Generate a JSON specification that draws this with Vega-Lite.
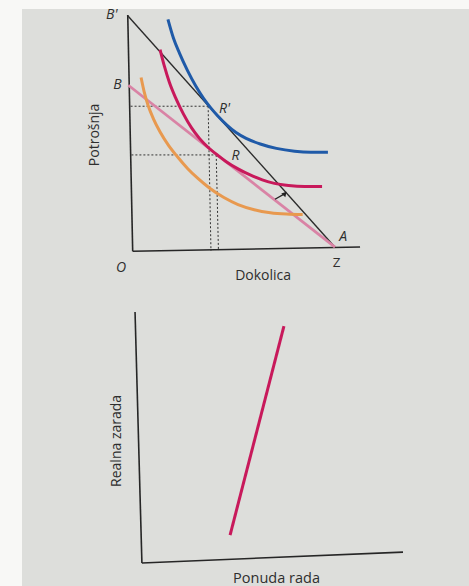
{
  "$schema": "https://vega.github.io/schema/vega-lite/v6.json",
  "background": "#f8f8f6",
  "padding": {"left": 22, "top": 7, "right": 0, "bottom": 0},
  "spacing": 0,
  "config": {"view": {"stroke": null, "fill": "#dddedb"}, "text": {"font": "Open Sans", "color": "#2e2e2e"}},
  "datasets": {
    "axesTop": [
      {"id": "y", "i": 0, "x": -2.6, "y": 100.9},
      {"id": "y", "i": 1, "x": -0.15, "y": -0.56},
      {"id": "x", "i": 0, "x": -0.15, "y": -0.56},
      {"id": "x", "i": 1, "x": 112.4, "y": 1.3}
    ],
    "curves": [
      {"curve": "BprimeA", "i": 0, "x": -2.6, "y": 100.5},
      {"curve": "BprimeA", "i": 1, "x": 100, "y": 1.2},
      {"curve": "BA", "i": 0, "x": -2.3, "y": 70.7},
      {"curve": "BA", "i": 1, "x": 100, "y": 1.2},
      {"curve": "U3", "i": 0, "x": 17.3, "y": 99},
      {"curve": "U3", "i": 1, "x": 20, "y": 91},
      {"curve": "U3", "i": 2, "x": 23, "y": 84.5},
      {"curve": "U3", "i": 3, "x": 27, "y": 77},
      {"curve": "U3", "i": 4, "x": 31, "y": 70.5},
      {"curve": "U3", "i": 5, "x": 35, "y": 65},
      {"curve": "U3", "i": 6, "x": 38.5, "y": 61},
      {"curve": "U3", "i": 7, "x": 42, "y": 57.5},
      {"curve": "U3", "i": 8, "x": 46.5, "y": 53.6},
      {"curve": "U3", "i": 9, "x": 51, "y": 50.4},
      {"curve": "U3", "i": 10, "x": 56, "y": 47.9},
      {"curve": "U3", "i": 11, "x": 63, "y": 45.5},
      {"curve": "U3", "i": 12, "x": 71, "y": 43.6},
      {"curve": "U3", "i": 13, "x": 80, "y": 42.4},
      {"curve": "U3", "i": 14, "x": 88, "y": 42},
      {"curve": "U3", "i": 15, "x": 96.5, "y": 42},
      {"curve": "U2", "i": 0, "x": 13.4, "y": 86},
      {"curve": "U2", "i": 1, "x": 15.5, "y": 79},
      {"curve": "U2", "i": 2, "x": 18, "y": 72},
      {"curve": "U2", "i": 3, "x": 21, "y": 65.5},
      {"curve": "U2", "i": 4, "x": 25, "y": 58.3},
      {"curve": "U2", "i": 5, "x": 29, "y": 52.4},
      {"curve": "U2", "i": 6, "x": 33, "y": 47.8},
      {"curve": "U2", "i": 7, "x": 37, "y": 44.2},
      {"curve": "U2", "i": 8, "x": 42, "y": 40.6},
      {"curve": "U2", "i": 9, "x": 46, "y": 38},
      {"curve": "U2", "i": 10, "x": 52, "y": 34.8},
      {"curve": "U2", "i": 11, "x": 58, "y": 32.2},
      {"curve": "U2", "i": 12, "x": 64, "y": 30.1},
      {"curve": "U2", "i": 13, "x": 70, "y": 28.6},
      {"curve": "U2", "i": 14, "x": 77, "y": 27.7},
      {"curve": "U2", "i": 15, "x": 85, "y": 27.3},
      {"curve": "U2", "i": 16, "x": 93.6, "y": 27.3},
      {"curve": "U1", "i": 0, "x": 4, "y": 74},
      {"curve": "U1", "i": 1, "x": 5.5, "y": 68},
      {"curve": "U1", "i": 2, "x": 7.5, "y": 62},
      {"curve": "U1", "i": 3, "x": 10, "y": 56.5},
      {"curve": "U1", "i": 4, "x": 13.5, "y": 50.5},
      {"curve": "U1", "i": 5, "x": 17.5, "y": 45},
      {"curve": "U1", "i": 6, "x": 22, "y": 40},
      {"curve": "U1", "i": 7, "x": 27, "y": 35},
      {"curve": "U1", "i": 8, "x": 32, "y": 30.8},
      {"curve": "U1", "i": 9, "x": 38, "y": 26.5},
      {"curve": "U1", "i": 10, "x": 45, "y": 22.5},
      {"curve": "U1", "i": 11, "x": 52, "y": 19.5},
      {"curve": "U1", "i": 12, "x": 60, "y": 17.3},
      {"curve": "U1", "i": 13, "x": 68, "y": 16},
      {"curve": "U1", "i": 14, "x": 76, "y": 15.4},
      {"curve": "U1", "i": 15, "x": 84, "y": 15.2}
    ],
    "dashes": [
      {"id": "hR1", "i": 0, "x": -1.2, "y": 61.7},
      {"id": "hR1", "i": 1, "x": 37.2, "y": 61.7},
      {"id": "vR1", "i": 0, "x": 37.2, "y": 61.7},
      {"id": "vR1", "i": 1, "x": 38.6, "y": -0.4},
      {"id": "hR", "i": 0, "x": -0.8, "y": 40.8},
      {"id": "hR", "i": 1, "x": 41.2, "y": 40.8},
      {"id": "vR", "i": 0, "x": 41.2, "y": 40.8},
      {"id": "vR", "i": 1, "x": 42.3, "y": -0.4}
    ],
    "arrow": [{"x": 70.3, "y": 21.8, "x2": 75.2, "y2": 24.2}],
    "lettersTop": [
      {"t": "B'", "x": -10.5, "y": 101},
      {"t": "B", "x": -7.7, "y": 71},
      {"t": "O", "x": -5.9, "y": -7.7},
      {"t": "A", "x": 104, "y": 5.6},
      {"t": "R'", "x": 45.3, "y": 60.7},
      {"t": "R", "x": 50.7, "y": 40.3}
    ],
    "lettersTopRegular": [{"t": "Z", "x": 100.8, "y": -5.6}],
    "titleX1": [{"t": "Dokolica", "x": 64.4, "y": -11.2}],
    "titleY1": [{"t": "Potrošnja", "x": -18.8, "y": 49.4}],
    "axesBottom": [
      {"id": "y", "i": 0, "x": -1.5, "y": 100},
      {"id": "y", "i": 1, "x": 1.1, "y": -1.6},
      {"id": "x", "i": 0, "x": 1.1, "y": -1.6},
      {"id": "x", "i": 1, "x": 100, "y": 2.8}
    ],
    "supply": [
      {"i": 0, "x": 34.5, "y": 9.7},
      {"i": 1, "x": 54.9, "y": 94.3}
    ],
    "titleX2": [{"t": "Ponuda rada", "x": 52.1, "y": -8.1}],
    "titleY2": [{"t": "Realna zarada", "x": -8.4, "y": 47.8}]
  },
  "vconcat": [
    {
      "width": 447,
      "height": 283,
      "encoding": {
        "x": {"field": "x", "type": "quantitative", "scale": {"domain": [-54.95, 166.34], "nice": false, "zero": false}, "axis": null},
        "y": {"field": "y", "type": "quantitative", "scale": {"domain": [-18.03, 103.43], "nice": false, "zero": false}, "axis": null}
      },
      "layer": [
        {
          "data": {"values": [{}]},
          "mark": {"type": "rect", "color": "#e9e5dd"},
          "encoding": {"x": {"datum": 157.8}, "x2": {"datum": 166.34}, "y": {"datum": -18.03}, "y2": {"datum": 103.43}}
        },
        {
          "data": {"values": [{}]},
          "mark": {"type": "rule", "color": "#9296a3", "strokeWidth": 1.5},
          "encoding": {"x": {"datum": 156.9}, "x2": {"datum": 159.4}, "y": {"datum": 103.43}, "y2": {"datum": -18.03}}
        },
        {
          "data": {"name": "axesTop"},
          "mark": {"type": "line", "color": "#262626", "strokeWidth": 1.6},
          "encoding": {"detail": {"field": "id"}, "order": {"field": "i"}}
        },
        {
          "data": {"name": "dashes"},
          "mark": {"type": "line", "color": "#333333", "strokeWidth": 1, "strokeDash": [2, 2]},
          "encoding": {"detail": {"field": "id"}, "order": {"field": "i"}}
        },
        {
          "data": {"name": "curves"},
          "transform": [{"filter": "datum.curve === 'BprimeA'"}],
          "mark": {"type": "line", "color": "#2b2b2b", "strokeWidth": 1.4},
          "encoding": {"order": {"field": "i"}}
        },
        {
          "data": {"name": "curves"},
          "transform": [{"filter": "datum.curve === 'BA'"}],
          "mark": {"type": "line", "color": "#d983a5", "strokeWidth": 2.8},
          "encoding": {"order": {"field": "i"}}
        },
        {
          "data": {"name": "curves"},
          "transform": [{"filter": "datum.curve === 'U1'"}],
          "mark": {"type": "line", "color": "#e8994f", "strokeWidth": 3, "interpolate": "monotone"},
          "encoding": {"order": {"field": "i"}}
        },
        {
          "data": {"name": "curves"},
          "transform": [{"filter": "datum.curve === 'U2'"}],
          "mark": {"type": "line", "color": "#c8195b", "strokeWidth": 3, "interpolate": "monotone"},
          "encoding": {"order": {"field": "i"}}
        },
        {
          "data": {"name": "curves"},
          "transform": [{"filter": "datum.curve === 'U3'"}],
          "mark": {"type": "line", "color": "#1f5aa8", "strokeWidth": 3, "interpolate": "monotone"},
          "encoding": {"order": {"field": "i"}}
        },
        {
          "data": {"name": "arrow"},
          "mark": {"type": "rule", "color": "#222222", "strokeWidth": 1.3},
          "encoding": {"x2": {"field": "x2"}, "y2": {"field": "y2"}}
        },
        {
          "data": {"name": "arrow"},
          "mark": {"type": "point", "shape": "triangle-up", "filled": true, "color": "#222222", "size": 30, "angle": 42, "opacity": 1},
          "encoding": {"x": {"field": "x2", "type": "quantitative"}, "y": {"field": "y2", "type": "quantitative"}}
        },
        {
          "data": {"name": "lettersTop"},
          "mark": {"type": "text", "fontSize": 14, "fontStyle": "italic", "baseline": "middle", "align": "center"},
          "encoding": {"text": {"field": "t"}}
        },
        {
          "data": {"name": "lettersTopRegular"},
          "mark": {"type": "text", "fontSize": 13.5, "baseline": "middle", "align": "center"},
          "encoding": {"text": {"field": "t"}}
        },
        {
          "data": {"name": "titleX1"},
          "mark": {"type": "text", "fontSize": 14, "baseline": "middle", "align": "center"},
          "encoding": {"text": {"field": "t"}}
        },
        {
          "data": {"name": "titleY1"},
          "mark": {"type": "text", "fontSize": 14, "baseline": "middle", "align": "center", "angle": 270},
          "encoding": {"text": {"field": "t"}}
        }
      ]
    },
    {
      "width": 447,
      "height": 296,
      "encoding": {
        "x": {"field": "x", "type": "quantitative", "scale": {"domain": [-44.32, 125], "nice": false, "zero": false}, "axis": null},
        "y": {"field": "y", "type": "quantitative", "scale": {"domain": [-11.74, 108.1], "nice": false, "zero": false}, "axis": null}
      },
      "layer": [
        {
          "data": {"values": [{}]},
          "mark": {"type": "rect", "color": "#e9e5dd"},
          "encoding": {"x": {"datum": 120.6}, "x2": {"datum": 125}, "y": {"datum": -11.74}, "y2": {"datum": 108.1}}
        },
        {
          "data": {"values": [{}]},
          "mark": {"type": "rule", "color": "#9296a3", "strokeWidth": 1.5},
          "encoding": {"x": {"datum": 119.7}, "x2": {"datum": 121.6}, "y": {"datum": 108.1}, "y2": {"datum": -11.74}}
        },
        {
          "data": {"name": "axesBottom"},
          "mark": {"type": "line", "color": "#262626", "strokeWidth": 1.6},
          "encoding": {"detail": {"field": "id"}, "order": {"field": "i"}}
        },
        {
          "data": {"name": "supply"},
          "mark": {"type": "line", "color": "#c8195b", "strokeWidth": 3},
          "encoding": {"order": {"field": "i"}}
        },
        {
          "data": {"name": "titleX2"},
          "mark": {"type": "text", "fontSize": 14.5, "baseline": "middle", "align": "center"},
          "encoding": {"text": {"field": "t"}}
        },
        {
          "data": {"name": "titleY2"},
          "mark": {"type": "text", "fontSize": 14, "baseline": "middle", "align": "center", "angle": 270},
          "encoding": {"text": {"field": "t"}}
        }
      ]
    }
  ]
}
